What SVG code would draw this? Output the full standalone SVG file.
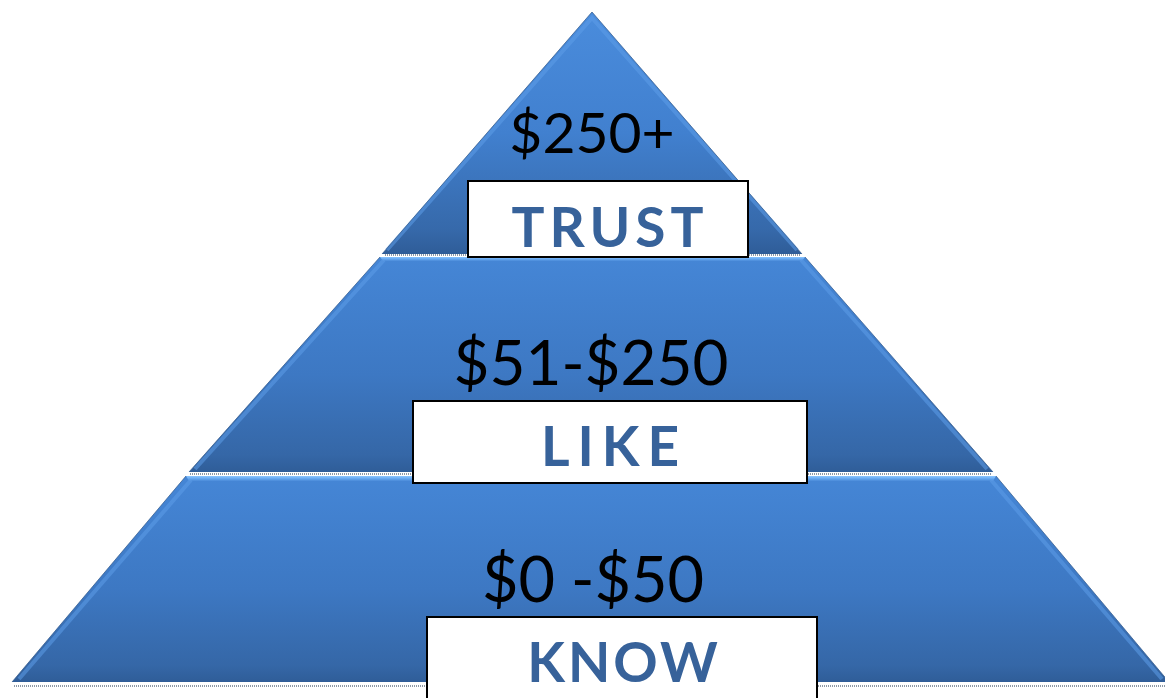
<svg xmlns="http://www.w3.org/2000/svg" width="1165" height="698" viewBox="0 0 1165 698">
  <defs>
    <linearGradient id="tierFill" x1="0" y1="0" x2="0" y2="1">
      <stop offset="0" stop-color="#4586d6"/>
      <stop offset="0.55" stop-color="#3d78c3"/>
      <stop offset="0.92" stop-color="#3567a7"/>
      <stop offset="1" stop-color="#2f5d98"/>
    </linearGradient>
    <linearGradient id="apexFill" x1="0" y1="0" x2="0" y2="1">
      <stop offset="0" stop-color="#4a8cdc"/>
      <stop offset="0.5" stop-color="#4180cf"/>
      <stop offset="0.9" stop-color="#3669aa"/>
      <stop offset="1" stop-color="#2f5d98"/>
    </linearGradient>
    <linearGradient id="topBand" x1="0" y1="0" x2="0" y2="1">
      <stop offset="0" stop-color="#8cc6ff"/>
      <stop offset="0.5" stop-color="#68aaf2"/>
      <stop offset="1" stop-color="#4a8ad8"/>
    </linearGradient>
    <style>
      .edge { fill: none; stroke: #5d9de8; stroke-width: 4; stroke-opacity: 0.55; }
      .outline { fill: none; stroke: #2d5587; stroke-width: 1; stroke-opacity: 0.7; }
      .shadow { stroke: #8f9aa6; stroke-width: 2; stroke-dasharray: 1 1; }
      .box { fill: #ffffff; stroke: #000000; stroke-width: 2; }
      .price { font-family: Lato, "Open Sans", sans-serif; font-size: 62px; fill: #000000; text-anchor: middle; }
      .label { font-family: Lato, "Open Sans", sans-serif; font-weight: bold; font-size: 55px; fill: #37629a; text-anchor: middle; letter-spacing: 3px; }
    </style>
  </defs>

  <!-- bottom tier -->
  <g id="tier-know">
    <line class="shadow" x1="14" y1="686" x2="1165" y2="686"/>
    <polygon points="186,476 996,476 1169,682 12,682" fill="url(#tierFill)"/>
    <polygon points="186,476 996,476 993,481 189,481" fill="url(#topBand)"/>
    <polyline class="edge" points="191,480 19,679"/>
    <polyline class="edge" points="991,480 1162,679"/>
    <polyline class="outline" points="12,682 186,476"/>
    <polyline class="outline" points="996,476 1169,682"/>
    <text class="price" x="593" y="602" style="font-size:63px">$0 -$50</text>
    <rect class="box" x="427" y="617" width="390" height="90"/>
    <text class="label" x="624" y="682">KNOW</text>
  </g>

  <!-- middle tier -->
  <g id="tier-like">
    <line class="shadow" x1="190" y1="474" x2="992" y2="474"/>
    <polygon points="380,257 805,257 993,472 189,472" fill="url(#tierFill)"/>
    <polygon points="380,257 805,257 802,261 383,261" fill="url(#topBand)"/>
    <polyline class="edge" points="384,260 195,469"/>
    <polyline class="edge" points="801,260 987,469"/>
    <polyline class="outline" points="189,472 380,257"/>
    <polyline class="outline" points="805,257 993,472"/>
    <text class="price" x="591" y="385">$51-$250</text>
    <rect class="box" x="413" y="401" width="394" height="82"/>
    <text class="label" x="614" y="466" style="letter-spacing:8px">LIKE</text>
  </g>

  <!-- top tier -->
  <g id="tier-trust">
    <line class="shadow" x1="385" y1="255" x2="800" y2="255"/>
    <polygon points="592,12 802,254 382,254" fill="url(#apexFill)"/>
    <polyline class="edge" points="387,250 592,18 797,250"/>
    <polyline class="outline" points="382,254 592,12 802,254"/>
    <text class="price" x="592" y="153" style="font-size:57px">$250+</text>
    <rect class="box" x="468" y="181" width="280" height="76"/>
    <text class="label" x="610" y="247" style="letter-spacing:5px">TRUST</text>
  </g>
</svg>
